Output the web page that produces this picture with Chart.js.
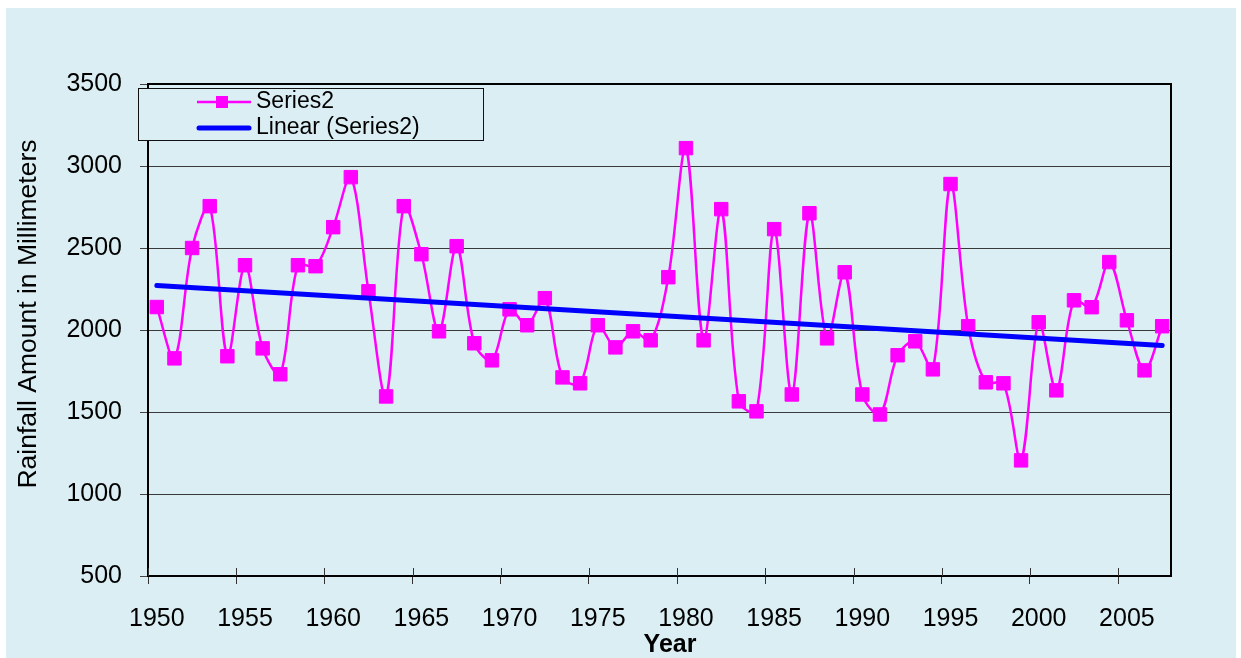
<!DOCTYPE html>
<html>
<head>
<meta charset="utf-8">
<script src="https://cdn.jsdelivr.net/npm/chart.js@4.4.1/dist/chart.umd.min.js"></script>
<style>
  body { margin: 0; background: #fff; }
  #wrap { position: absolute; left: 0; top: 0; width: 1241px; height: 658px; }
</style>
</head>
<body>
<div id="wrap"><canvas id="rainChart" width="1241" height="658"></canvas></div>
<script>
// categories: one per year
const years = [
  '1950','1951','1952','1953','1954','1955','1956','1957','1958','1959',
  '1960','1961','1962','1963','1964','1965','1966','1967','1968','1969',
  '1970','1971','1972','1973','1974','1975','1976','1977','1978','1979',
  '1980','1981','1982','1983','1984','1985','1986','1987','1988','1989',
  '1990','1991','1992','1993','1994','1995','1996','1997','1998','1999',
  '2000','2001','2002','2003','2004','2005','2006','2007'
];

// rainfall (mm)
const rainfall = [
  2140, 1827, 2500, 2755, 1840, 2395, 1888, 1730, 2395, 2389,
  2627, 2932, 2236, 1595, 2755, 2462, 1992, 2511, 1919, 1815,
  2126, 2029, 2194, 1711, 1675, 2029, 1894, 1992, 1937, 2322,
  3109, 1937, 2737, 1565, 1504, 2615, 1607, 2712, 1949, 2352,
  1607, 1485, 1846, 1931, 1760, 2890, 2023, 1681, 1675, 1205,
  2047, 1632, 2181, 2139, 2414, 2059, 1754, 2023
];

// linear trendline end points
const trendYears = ['1950', '2007'];
const trendValues = [2272, 1905];

// labelled years on the x axis
const tickYears = ['1950','1955','1960','1965','1970','1975','1980','1985','1990','1995','2000','2005'];

const FONT = "'Liberation Sans', Arial, sans-serif";
const BG = '#DAEEF3';

// background, frame, axis titles and legend box
const panel = {
  id: 'panel',
  beforeDraw(chart) {
    const ctx = chart.ctx;
    ctx.save();
    ctx.fillStyle = '#fff';
    ctx.fillRect(0, 0, chart.width, chart.height);
    ctx.fillStyle = BG;
    ctx.fillRect(6, 8, 1230, 650);
    ctx.restore();
  },
  afterDraw(chart) {
    const { ctx, chartArea: a } = chart;
    ctx.save();
    ctx.strokeStyle = '#000';
    ctx.lineWidth = 2;
    ctx.beginPath();
    ctx.moveTo(a.left, a.top);
    ctx.lineTo(a.right, a.top);
    ctx.lineTo(a.right, a.bottom);
    ctx.stroke();

    // x tick marks also poke up into the plot a little
    const xs = chart.scales.x;
    ctx.strokeStyle = '#333';
    ctx.lineWidth = 1;
    tickYears.forEach(y => {
      const i = years.indexOf(y);
      const px = Math.round(xs.getPixelForTick(i) - (xs.getPixelForTick(1) - xs.getPixelForTick(0)) / 2) + 0.5;
      ctx.beginPath();
      ctx.moveTo(px, a.bottom - 8);
      ctx.lineTo(px, a.bottom);
      ctx.stroke();
    });

    ctx.fillStyle = '#000';
    ctx.textAlign = 'center';
    ctx.textBaseline = 'middle';
    ctx.font = 'bold 25px ' + FONT;
    ctx.fillText('Year', 670, 645);

    ctx.save();
    ctx.translate(29, 314);
    ctx.rotate(-Math.PI / 2);
    ctx.font = '26.5px ' + FONT;
    ctx.fillText('Rainfall Amount in Millimeters', 0, 0);
    ctx.restore();

    // legend
    ctx.fillStyle = BG;
    ctx.fillRect(138.5, 88.5, 345, 52);
    ctx.lineWidth = 1;
    ctx.strokeStyle = '#111';
    ctx.strokeRect(138.5, 88.5, 345, 52);

    ctx.strokeStyle = '#FF00FF';
    ctx.lineWidth = 2.5;
    ctx.beginPath();
    ctx.moveTo(197, 102);
    ctx.lineTo(251, 102);
    ctx.stroke();
    ctx.fillStyle = '#FF00FF';
    ctx.fillRect(216, 96, 12, 12);

    ctx.strokeStyle = '#0000FF';
    ctx.lineWidth = 5;
    ctx.lineCap = 'round';
    ctx.beginPath();
    ctx.moveTo(199, 128);
    ctx.lineTo(249, 128);
    ctx.stroke();

    ctx.fillStyle = '#000';
    ctx.textAlign = 'left';
    ctx.font = '23px ' + FONT;
    ctx.fillText('Series2', 256, 102);
    ctx.fillText('Linear (Series2)', 256, 128);
    ctx.restore();
  }
};

new Chart(document.getElementById('rainChart'), {
  type: 'line',
  data: {
    labels: years,
    datasets: [
      {
        label: 'Series2',
        data: rainfall,
        borderColor: '#FF00FF',
        backgroundColor: '#FF00FF',
        borderWidth: 2.5,
        pointStyle: 'rect',
        pointRadius: 9.5,
        pointBorderWidth: 1,
        pointBackgroundColor: '#FF00FF',
        pointBorderColor: '#FF00FF',
        tension: 0.33,
        order: 1
      },
      {
        label: 'Linear (Series2)',
        data: trendYears.map((y, i) => ({ x: y, y: trendValues[i] })),
        borderColor: '#0000FF',
        borderWidth: 5,
        borderCapStyle: 'round',
        pointRadius: 0,
        tension: 0,
        order: 0
      }
    ]
  },
  options: {
    responsive: false,
    animation: false,
    devicePixelRatio: 1,
    layout: { padding: { top: 84, right: 70, bottom: 0, left: 0 } },
    plugins: { legend: { display: false }, tooltip: { enabled: false } },
    scales: {
      x: {
        type: 'category',
        offset: true,
        afterFit(s) { s.height = 82; },
        ticks: {
          autoSkip: false,
          maxRotation: 0,
          minRotation: 0,
          color: '#000',
          font: { family: FONT, size: 25 },
          padding: 20,
          callback(v, i) { return tickYears.includes(years[i]) ? years[i] : ''; }
        },
        grid: {
          offset: true,
          drawOnChartArea: false,
          tickLength: 8,
          tickColor: c => tickYears.includes(years[c.index]) ? '#333' : 'rgba(0,0,0,0)'
        },
        border: { color: '#000', width: 2 }
      },
      y: {
        min: 500,
        max: 3500,
        afterFit(s) { s.width = 148; },
        ticks: {
          stepSize: 500,
          color: '#000',
          font: { family: FONT, size: 25 },
          padding: 18,
          callback: v => String(v)
        },
        grid: { color: '#3a3a3a', lineWidth: 1, tickLength: 8, tickColor: '#444' },
        border: { color: '#000', width: 2 }
      }
    }
  },
  plugins: [panel]
});
</script>
</body>
</html>
